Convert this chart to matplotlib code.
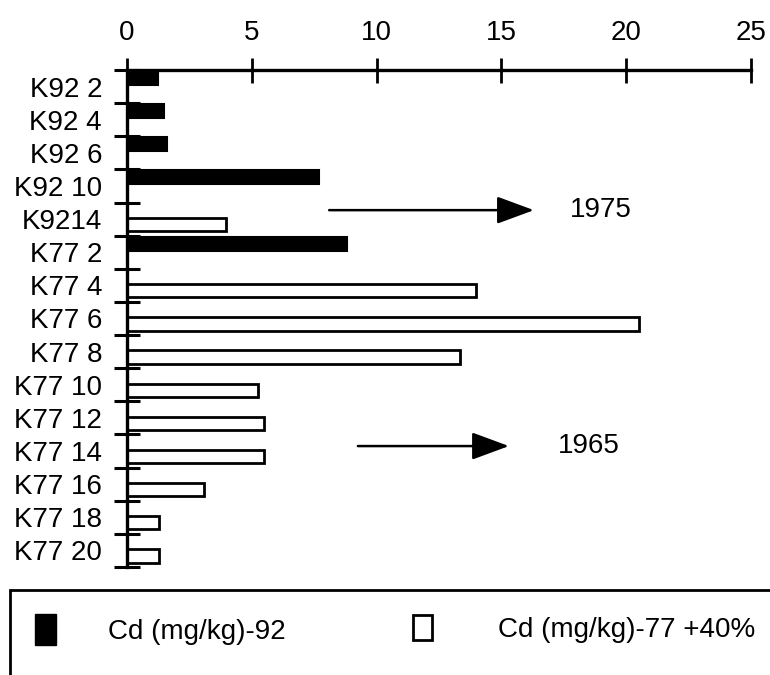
import numpy as np
import matplotlib
matplotlib.use("Agg")
import matplotlib.pyplot as plt
from matplotlib.patches import Rectangle

plt.rcParams['font.family'] = ['Liberation Sans', 'DejaVu Sans']

categories = ["K92 2", "K92 4", "K92 6", "K92 10", "K9214", "K77 2", "K77 4", "K77 6",
              "K77 8", "K77 10", "K77 12", "K77 14", "K77 16", "K77 18", "K77 20"]
cd_92 = [1.25, 1.5, 1.6, 7.7, np.nan, 8.8, np.nan, np.nan, np.nan, np.nan,
         np.nan, np.nan, np.nan, np.nan, np.nan]
cd_77 = [np.nan, np.nan, np.nan, np.nan, 3.95, np.nan, 14.0, 20.5, 13.35, 5.25,
         5.5, 5.5, 3.1, 1.3, 1.3]
xticks = [0, 5, 10, 15, 20, 25]
legend_labels = ["Cd (mg/kg)-92", "Cd (mg/kg)-77 +40%"]
arrow_labels = ["1975", "1965"]

FS = 20
W, H = 770, 675
fig = plt.figure(figsize=(W / 100, H / 100), dpi=100)
ax = fig.add_axes([127 / W, 1 - 567 / H, (751 - 127) / W, (567 - 70) / H])

n = len(categories)
idx = np.arange(n)
ax.barh(idx + 0.24, cd_92, height=0.42, color="black", edgecolor="black",
        linewidth=1.5, zorder=2)
ax.barh(idx + 0.665, cd_77, height=0.40, color="white", edgecolor="black",
        linewidth=2.0, zorder=2)

ax.set_xlim(0, 25)
ax.set_ylim(n, 0)

ax.xaxis.set_ticks_position("top")
ax.set_xticks(xticks)
ax.set_xticklabels([str(t) for t in xticks], fontsize=FS)
ax.tick_params(axis="x", direction="inout", length=18, width=2, pad=8)

ax.set_yticks(np.arange(n + 1))
ax.set_yticklabels([])
ax.set_yticks(idx + 0.5, minor=True)
ax.set_yticklabels(categories, minor=True, fontsize=FS)
ax.tick_params(axis="y", which="major", direction="inout", length=19, width=2.2)
ax.tick_params(axis="y", which="minor", length=0, pad=18)

for s in ["right", "bottom"]:
    ax.spines[s].set_visible(False)
for s in ["top", "left"]:
    ax.spines[s].set_linewidth(2.4)
    ax.spines[s].set_zorder(3)

# arrows
arrow_specs = [(8.1, 16.3, 4.23, 19.0), (9.25, 15.3, 11.35, 18.5)]
for (x0, x1, yy, xt), lab in zip(arrow_specs, arrow_labels):
    ax.annotate("", xy=(x1, yy), xytext=(x0, yy),
                arrowprops=dict(arrowstyle="-|>,head_length=2.3,head_width=0.85",
                                color="black", lw=1.8, shrinkA=0, shrinkB=0))
    ax.text(xt, yy, lab, fontsize=FS, ha="center", va="center")

# legend box
fig.add_artist(Rectangle((10 / W, -0.1), 1.2, 0.1 + 1 - 590 / H, transform=fig.transFigure,
                         fill=False, edgecolor="black", linewidth=2, clip_on=False))
fig.add_artist(Rectangle((35 / W, 1 - 645 / H), 21 / W, 31 / H, transform=fig.transFigure,
                         facecolor="black", edgecolor="black", linewidth=1))
fig.add_artist(Rectangle((413 / W, 1 - 640 / H), 19 / W, 25 / H, transform=fig.transFigure,
                         facecolor="white", edgecolor="black", linewidth=2))
fig.text(108 / W, 1 - 632 / H, legend_labels[0], fontsize=FS, ha="left", va="center")
fig.text(498 / W, 1 - 630 / H, legend_labels[1], fontsize=FS, ha="left", va="center")

fig.savefig("out.png", dpi=100)
